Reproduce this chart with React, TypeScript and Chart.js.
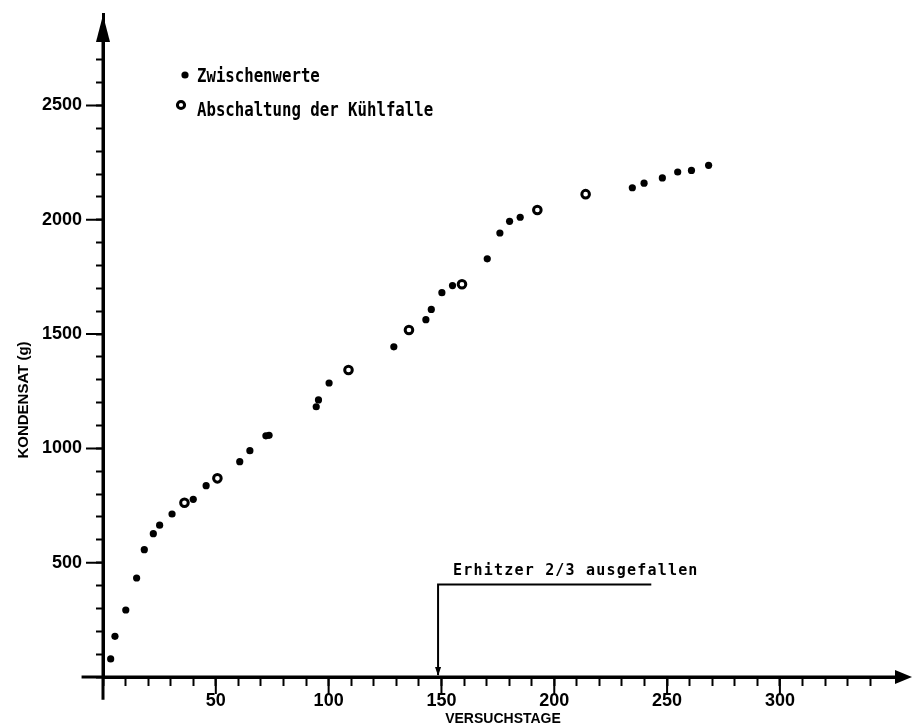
import React, { useEffect, useRef } from "react";
import { Chart, registerables } from "chart.js";

Chart.register(...registerables);

// ---- data ----
const zwischenTage = [
  3.4, 5.3, 10.1, 14.9, 18.3, 22.3, 25.1, 30.6, 40.0, 45.7, 60.6, 65.1, 72.2, 73.6,
  94.5, 95.5, 100.2, 128.9, 143.1, 145.5, 150.2, 154.9, 170.3, 175.9, 180.2, 184.9,
  234.6, 239.8, 247.9, 254.7, 260.8, 268.4,
];
const zwischenKondensat = [
  79, 178, 293, 433, 557, 627, 664, 713, 777, 837, 942, 990, 1055, 1057,
  1182, 1212, 1286, 1444, 1563, 1608, 1681, 1712, 1829, 1942, 1993, 2011,
  2140, 2160, 2183, 2209, 2216, 2238,
];
const abschaltTage = [36.1, 50.7, 108.8, 135.6, 159.1, 192.5, 213.9];
const abschaltKondensat = [762, 869, 1343, 1518, 1718, 2043, 2112];

const xTickLabels = [50, 100, 150, 200, 250, 300];
const yTickLabels = [500, 1000, 1500, 2000, 2500];
const legendLabels = ["Zwischenwerte", "Abschaltung der Kühlfalle"];
const xTitle = "VERSUCHSTAGE";
const yTitle = "KONDENSAT (g)";
const annotationText = "Erhitzer 2/3 ausgefallen";
const annotationDay = 148.5;
const annotationLevel = 405;
const annotationEnd = 243;

const X_MIN = 0;
const X_MAX = 355;
const X_LAST_TICK = 340;
const Y_MIN = 0;
const Y_MAX = 2900;
const Y_LAST_TICK = 2700;

const labelFont = '"Liberation Sans", Arial, sans-serif';
const monoFont = '"DejaVu Sans Mono", monospace';

const decorPlugin = {
  id: "decor",
  afterDraw(chart: any) {
    const ctx = chart.ctx as CanvasRenderingContext2D;
    const xs = chart.scales.x;
    const ys = chart.scales.y;
    const x0 = xs.getPixelForValue(0);
    const y0 = ys.getPixelForValue(0);
    ctx.save();
    ctx.strokeStyle = "#000";
    ctx.fillStyle = "#000";

    // axis extensions
    ctx.lineWidth = 3;
    ctx.beginPath();
    ctx.moveTo(xs.getPixelForValue(-9.5), y0);
    ctx.lineTo(xs.right + 2, y0);
    ctx.moveTo(x0, ys.getPixelForValue(-100));
    ctx.lineTo(x0, ys.top + 20);
    ctx.stroke();

    // arrow heads
    ctx.beginPath();
    ctx.moveTo(xs.right + 8, y0);
    ctx.lineTo(xs.right - 9, y0 - 7);
    ctx.lineTo(xs.right - 9, y0 + 7);
    ctx.closePath();
    ctx.fill();
    ctx.beginPath();
    ctx.moveTo(x0, ys.top + 1);
    ctx.lineTo(x0 - 7, ys.top + 28);
    ctx.lineTo(x0 + 7, ys.top + 28);
    ctx.closePath();
    ctx.fill();

    // longer major ticks
    ctx.lineWidth = 2;
    ctx.beginPath();
    for (const v of xTickLabels) {
      const px = xs.getPixelForValue(v);
      ctx.moveTo(px, y0);
      ctx.lineTo(px, y0 + 17);
    }
    for (const v of yTickLabels) {
      const py = ys.getPixelForValue(v);
      ctx.moveTo(x0 - 17, py);
      ctx.lineTo(x0, py);
    }
    ctx.stroke();

    // axis titles
    ctx.textAlign = "center";
    ctx.textBaseline = "middle";
    ctx.font = `bold 14px ${labelFont}`;
    ctx.fillText(xTitle, 503, 719);
    ctx.save();
    ctx.translate(24, 400);
    ctx.rotate(-Math.PI / 2);
    ctx.font = `bold 15px ${labelFont}`;
    ctx.fillText(yTitle, 0, 0);
    ctx.restore();

    // legend
    ctx.beginPath();
    ctx.arc(185, 75, 3.6, 0, Math.PI * 2);
    ctx.fill();
    ctx.beginPath();
    ctx.lineWidth = 3;
    ctx.arc(181, 105, 3.6, 0, Math.PI * 2);
    ctx.fillStyle = "#fff";
    ctx.fill();
    ctx.stroke();
    ctx.fillStyle = "#000";
    ctx.font = `bold 15.7px ${monoFont}`;
    ctx.textAlign = "left";
    ctx.textBaseline = "alphabetic";
    ctx.save();
    ctx.translate(197, 82);
    ctx.scale(1, 1.25);
    ctx.fillText(legendLabels[0], 0, 0);
    ctx.restore();
    ctx.save();
    ctx.translate(197, 116);
    ctx.scale(1, 1.25);
    ctx.fillText(legendLabels[1], 0, 0);
    ctx.restore();

    // annotation
    const ax = xs.getPixelForValue(annotationDay);
    const ay = ys.getPixelForValue(annotationLevel);
    const ae = xs.getPixelForValue(annotationEnd);
    ctx.lineWidth = 2;
    ctx.beginPath();
    ctx.moveTo(ax, y0 - 2);
    ctx.lineTo(ax, ay);
    ctx.lineTo(ae, ay);
    ctx.stroke();
    ctx.beginPath();
    ctx.moveTo(ax, y0 - 1);
    ctx.lineTo(ax - 3, y0 - 10);
    ctx.lineTo(ax + 3, y0 - 10);
    ctx.closePath();
    ctx.fill();
    ctx.font = `bold 15px ${monoFont}`;
    (ctx as any).letterSpacing = "1.2px";
    ctx.fillText(annotationText, ax + 15, ay - 9);
    ctx.restore();
  },
};

export default function App() {
  const ref = useRef<HTMLCanvasElement | null>(null);

  useEffect(() => {
    if (!ref.current) return;
    const chart = new Chart(ref.current, {
      type: "scatter",
      data: {
        datasets: [
          {
            label: legendLabels[0],
            data: zwischenTage.map((x, i) => ({ x, y: zwischenKondensat[i] })),
            pointRadius: 3.6,
            pointBackgroundColor: "#000",
            pointBorderWidth: 0,
            borderColor: "#000",
          },
          {
            label: legendLabels[1],
            data: abschaltTage.map((x, i) => ({ x, y: abschaltKondensat[i] })),
            pointRadius: 3.8,
            pointBackgroundColor: "#fff",
            pointBorderColor: "#000",
            pointBorderWidth: 3,
          },
        ],
      },
      options: {
        responsive: false,
        animation: false,
        devicePixelRatio: 1,
        layout: { padding: { top: 14, right: 11, left: 0, bottom: 0 } },
        plugins: {
          legend: { display: false },
          tooltip: { enabled: false },
        },
        scales: {
          x: {
            type: "linear",
            min: X_MIN,
            max: X_MAX,
            afterBuildTicks: (scale: any) => {
              scale.ticks = scale.ticks.filter((t: any) => t.value <= X_LAST_TICK);
            },
            afterFit: (scale: any) => {
              scale.height = 50;
              scale.paddingLeft = 0;
              scale.paddingRight = 0;
            },
            border: { display: true, color: "#000", width: 3 },
            grid: {
              drawOnChartArea: false,
              drawTicks: true,
              tickLength: 9,
              tickWidth: 2,
              tickColor: "#000",
            },
            ticks: {
              stepSize: 10,
              autoSkip: false,
              maxRotation: 0,
              minRotation: 0,
              padding: 4,
              color: "#000",
              font: { family: labelFont, size: 18, weight: "bold" },
              callback: (v: any) => (xTickLabels.includes(Number(v)) ? String(v) : ""),
            },
          },
          y: {
            type: "linear",
            min: Y_MIN,
            max: Y_MAX,
            afterBuildTicks: (scale: any) => {
              scale.ticks = scale.ticks.filter((t: any) => t.value <= Y_LAST_TICK);
            },
            afterFit: (scale: any) => {
              scale.width = 103;
              scale.paddingTop = 0;
              scale.paddingBottom = 0;
            },
            border: { display: true, color: "#000", width: 3 },
            grid: {
              drawOnChartArea: false,
              drawTicks: true,
              tickLength: 7,
              tickWidth: 2,
              tickColor: "#000",
            },
            ticks: {
              stepSize: 100,
              autoSkip: false,
              padding: 14,
              color: "#000",
              font: { family: labelFont, size: 18, weight: "bold" },
              callback: (v: any) => (yTickLabels.includes(Number(v)) ? String(v) : ""),
            },
          },
        },
      },
      plugins: [decorPlugin],
    } as any);
    return () => chart.destroy();
  }, []);

  return (
    <div style={{ position: "fixed", left: 0, top: 0, width: 915, height: 727, background: "#fff" }}>
      <canvas ref={ref} width={915} height={727} style={{ display: "block" }} />
    </div>
  );
}
